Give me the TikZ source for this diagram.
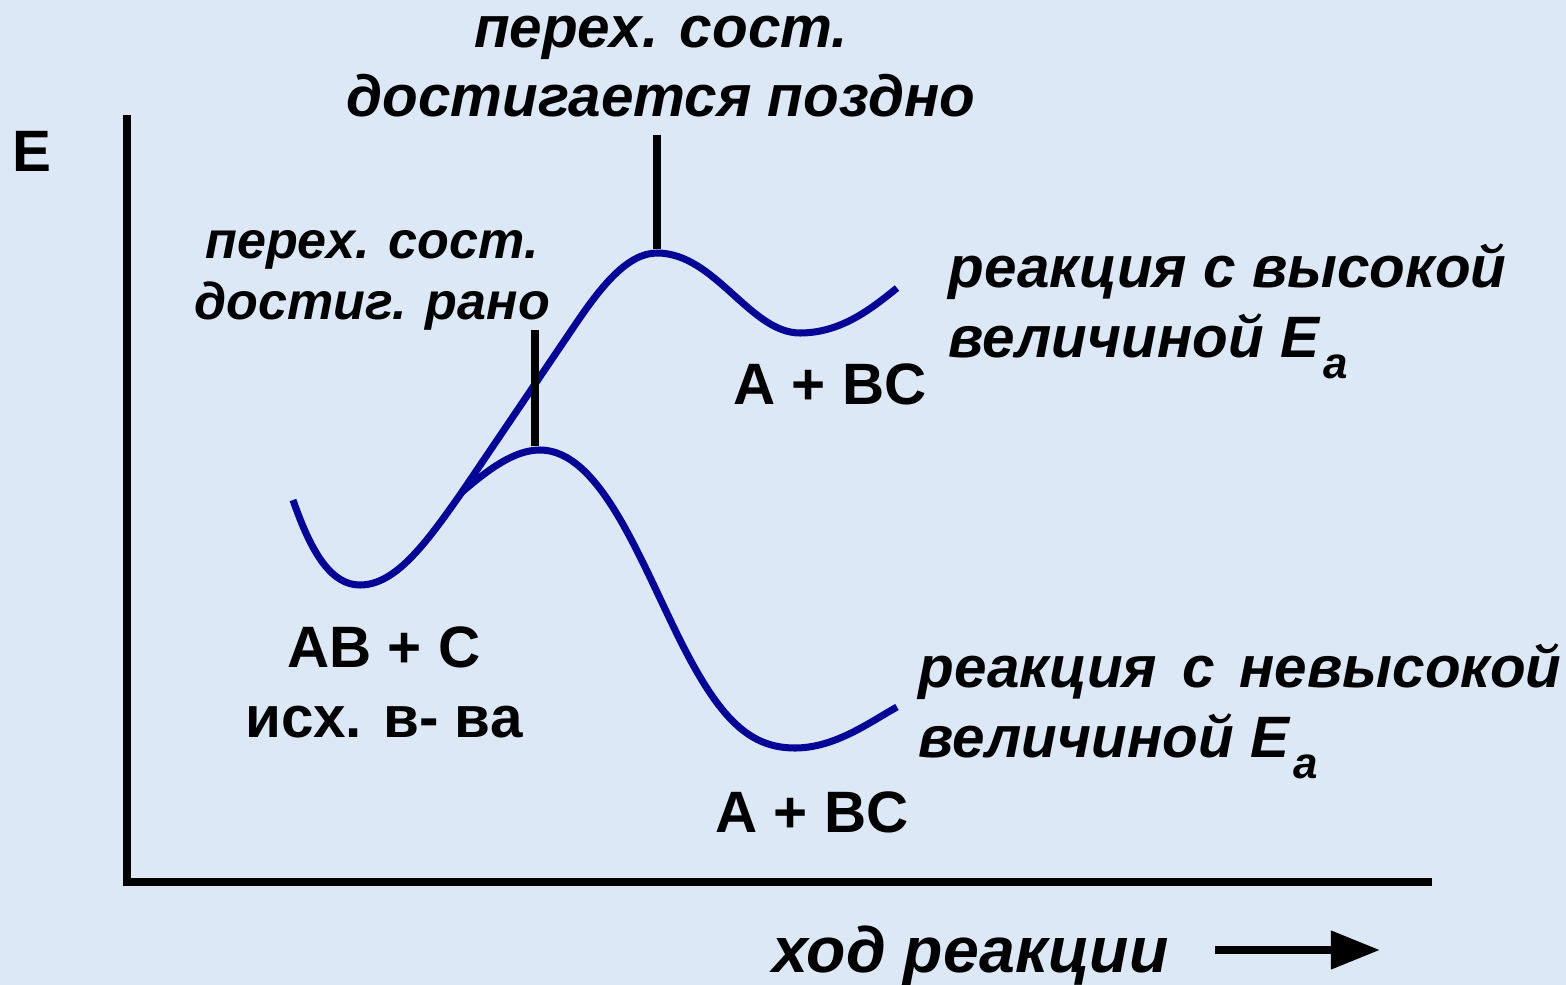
\documentclass[tikz,border=0pt]{standalone}
\usepackage{fontspec}
\setmainfont{Liberation Sans}
\usetikzlibrary{arrows.meta, calc}
\definecolor{bgc}{RGB}{220,232,245}
\definecolor{curvec}{RGB}{6,6,150}
\definecolor{inkc}{RGB}{0,0,0}
\tikzset{
  lbl/.style={font=\fontsize{16.6}{19.8}\selectfont\bfseries, text=inkc,
              align=center, inner sep=0pt},
  ilbl/.style={lbl, font=\fontsize{16.6}{19.8}\selectfont\bfseries\itshape},
  slbl/.style={lbl, font=\fontsize{14.8}{17.6}\selectfont\bfseries\itshape},
  axis/.style={draw=inkc, line width=2pt},
  profile/.style={draw=curvec, line width=2pt},
  tsline/.style={draw=inkc, line width=2pt},
  arr/.style={-{Triangle[length=14pt, width=10.5pt]}, draw=inkc, line width=2.3pt},
}
\newcommand{\Ea}{E\kern0.08em\raisebox{-0.7ex}{\fontsize{12.5}{12.5}\selectfont a}}

\begin{document}
\begin{tikzpicture}[x=0.01cm, y=-0.01cm]
  \useasboundingbox (0,0) rectangle (1566,985);
  \fill[bgc] (0,0) rectangle (1566,985);

  % axes
  \coordinate (ytop) at (127,115);
  \coordinate (orig) at (127,882);
  \coordinate (xend) at (1432,882);
  \draw[axis] (ytop) -- (orig) -- (xend);

  % points of the two energy profiles
  \coordinate (start) at (293,500);
  \coordinate (react) at (360,585);
  \coordinate (fork) at (462,492);
  \coordinate (tsHigh) at (657,253);
  \coordinate (prodHigh) at (800,333);
  \coordinate (endHigh) at (897,288);
  \coordinate (tsLow) at (540,450);
  \coordinate (prodLow) at (795,748);
  \coordinate (endLow) at (897,707);

  \draw[profile] (start) .. controls (312,555) and (332,585) .. (react)
    .. controls (395,585) and (425,545) .. (fork)
    -- (575,325) .. controls (600,288) and (627,253) .. (tsHigh)
    .. controls (715,253) and (750,333) .. (prodHigh)
    .. controls (840,333) and (870,310) .. (endHigh);
  \draw[profile] (fork) .. controls (490,468) and (515,450) .. (tsLow)
    .. controls (600,450) and (640,560) .. (680,640)
    .. controls (720,720) and (750,748) .. (prodLow)
    .. controls (835,748) and (870,722) .. (endLow);

  % transition state marks
  \coordinate (tsHighTop) at (657,135);
  \coordinate (tsLowTop) at (535,330);
  \draw[tsline] (tsHighTop) -- ($(tsHigh)+(0,-4)$);
  \draw[tsline] (tsLowTop) -- ($(tsLow)+(-5,-4)$);

  \node[lbl, anchor=base west] (eLabel) at (12,172) {E};
  \node[ilbl, anchor=base] (lateTs) at (661,117) {перех. сост.\\достигается поздно};
  \node[slbl, anchor=base] (earlyTs) at (372,320) {перех. сост.\\достиг. рано};
  \node[ilbl, align=left, anchor=base west] (highEa) at (948,357)
    {реакция с высокой\\величиной \Ea};
  \node[lbl, anchor=base] (prodHighLbl) at (830,405) {A + BC};
  \node[lbl, anchor=base] (reactLbl) at (384,737) {AB + C\\исх. в- ва};
  \node[ilbl, align=left, anchor=base west] (lowEa) at (918,757)
    {реакция\hspace{0.15em} с\hspace{0.15em} невысокой\\величиной \Ea};
  \node[lbl, anchor=base] (prodLowLbl) at (812,832) {A + BC};

  \node[ilbl, font=\fontsize{18.3}{21}\selectfont\bfseries\itshape, anchor=base west]
    (xLabel) at (772,972) {ход реакции};
  \coordinate (arrS) at (1215,950);
  \coordinate (arrE) at (1380,950);
  \draw[arr] (arrS) -- (arrE);
\end{tikzpicture}
\end{document}
